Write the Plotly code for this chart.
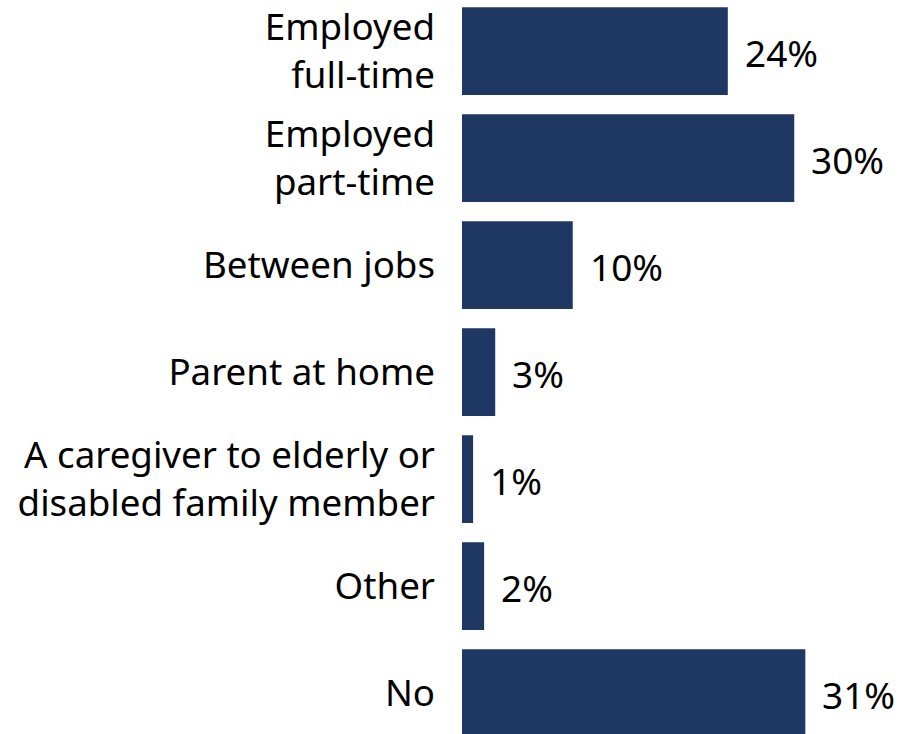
import plotly.graph_objects as go

# Employment status shares (percent of respondents)
categories = [
    "Employed<br>full-time",
    "Employed<br>part-time",
    "Between jobs",
    "Parent at home",
    "A caregiver to elderly or<br>disabled family member",
    "Other",
    "No",
]
values = [24, 30, 10, 3, 1, 2, 31]
value_labels = ["24%", "30%", "10%", "3%", "1%", "2%", "31%"]

BAR_COLOR = "#1F3763"
FONT = "'Noto Sans', 'Open Sans', sans-serif"

fig = go.Figure(
    go.Bar(
        x=values,
        y=categories,
        orientation="h",
        marker=dict(color=BAR_COLOR, line=dict(width=0)),
        hoverinfo="skip",
    )
)

for cat, val, lab in zip(categories, values, value_labels):
    fig.add_annotation(
        x=val, y=cat, text=lab, showarrow=False,
        xanchor="left", yanchor="middle", xshift=15, yshift=-1,
        font=dict(family=FONT, size=37, color="#000000"),
    )

fig.update_layout(
    width=913, height=734,
    margin=dict(l=462, r=8, t=0, b=0),
    paper_bgcolor="white", plot_bgcolor="white",
    bargap=0.18,
    showlegend=False,
    font=dict(family=FONT, color="#000000"),
)
fig.update_xaxes(range=[0, 40], visible=False)
fig.update_yaxes(
    type="category",
    range=[6.383, -0.477],
    showgrid=False, zeroline=False, showline=False, ticks="",
    tickfont=dict(family=FONT, size=36.7, color="#000000"),
    ticklabelstandoff=26,
)

fig.write_html("out.html")
